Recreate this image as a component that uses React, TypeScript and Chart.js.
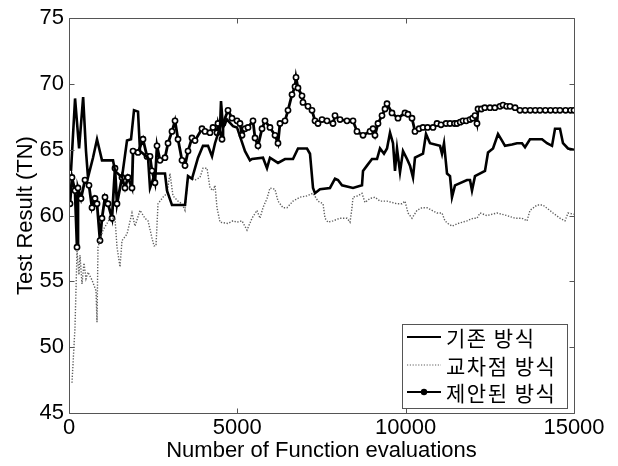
import { useEffect, useRef } from "react";
import { Chart, registerables } from "chart.js";

Chart.register(...registerables);

// ---------- data ----------
const xTicks = [0, 5000, 10000, 15000];
const yTicks = [45, 50, 55, 60, 65, 70, 75];
const xTitle = "Number of Function evaluations";
const yTitle = "Test Result (TN)";
const seriesNames = ["기존 방식", "교차점 방식", "제안된 방식"];

// 기존 방식 (solid)
const s1X = [60,180,300,420,505,564,713,832,980,1307,1366,1574,1723,1842,1931,2050,2109,2347,2406,2554,2851,2911,3059,3446,3535,3653,3743,3832,3980,4129,4248,4337,4485,4515,4574,4693,4871,4990,5228,5376,5436,5762,5881,5970,6208,6416,6653,6802,7069,7158,7248,7307,7455,7752,7901,7990,8109,8436,8703,8733,8851,9000,9149,9238,9356,9446,9535,9624,9683,9743,9832,9921,10040,10129,10218,10277,10515,10604,10723,11020,11079,11139,11228,11317,11376,11465,11822,11911,11970,12059,12356,12446,12594,12743,12861,12950,13158,13307,13455,13545,13693,14050,14198,14347,14436,14584,14673,14822,15000];
const s1Y = [63.4,68.9,65.1,69.0,64.9,62.9,64.4,65.8,64.2,64.2,63.4,62.9,65.7,65.8,68.0,67.9,64.9,64.4,62.1,63.2,63.2,61.9,60.8,60.8,63.0,62.8,63.6,64.4,65.3,65.3,64.5,65.5,66.7,68.7,66.7,67.3,66.8,66.7,64.9,64.2,64.3,64.4,63.6,64.4,64.0,64.3,64.3,65.1,65.1,64.7,62.1,61.7,62.0,62.1,62.8,62.7,62.3,62.1,62.3,63.4,63.8,64.3,64.3,65.1,64.7,65.1,66.3,65.5,63.4,65.1,63.3,64.9,64.3,63.8,62.9,64.4,64.7,66.2,65.5,65.3,64.7,65.5,63.2,63.0,61.4,62.3,62.7,62.7,61.9,63.0,63.4,64.8,65.1,66.2,65.7,65.3,65.4,65.5,65.5,65.2,65.8,65.8,65.5,65.3,66.6,66.6,65.5,65.1,65.0];

// 교차점 방식 (dotted)
const s2X = [89,178,238,297,327,386,445,505,564,683,802,832,861,1010,1129,1218,1366,1426,1515,1574,1723,1871,1960,2109,2257,2347,2465,2525,2584,2644,2792,2911,3000,3089,3238,3356,3446,3535,3743,3891,3980,4099,4188,4277,4337,4396,4485,4723,4871,4990,5139,5287,5436,5584,5673,5762,5881,5970,6119,6208,6356,6475,6653,6861,7069,7248,7396,7545,7604,7693,7842,8050,8257,8347,8406,8436,8584,8703,8792,8941,9089,9238,9446,9594,9743,9891,9980,10069,10188,10337,10485,10634,10782,10931,11079,11168,11257,11376,11554,11822,12000,12119,12208,12416,12713,13010,13248,13455,13604,13693,13901,14079,14228,14376,14584,14733,14822,15000];
const s2Y = [47.3,51.5,57.3,55.5,57.0,54.8,56.4,55.2,55.7,55.1,54.3,51.9,57.6,58.9,59.4,59.8,59.8,57.6,56.1,58.1,58.6,60.2,59.2,60.4,59.8,59.6,58.3,57.7,57.7,60.9,61.4,61.7,63.2,61.5,61.1,60.9,60.4,63.0,62.7,62.9,63.6,63.6,62.1,61.9,62.3,60.6,59.5,59.4,59.6,59.5,59.6,58.9,59.8,60.4,59.8,60.6,61.3,62.1,62.0,61.1,60.6,60.6,61.1,61.4,61.5,61.7,61.1,60.9,59.8,59.5,59.6,59.8,59.8,59.5,60.6,61.4,61.5,61.7,61.0,61.3,61.4,61.1,61.1,61.0,60.9,60.9,61.1,60.2,59.8,60.4,60.6,60.6,60.4,60.2,60.2,59.6,59.4,59.2,59.4,59.6,59.8,59.8,60.2,60.0,60.2,60.0,59.8,59.8,59.6,60.4,60.8,60.8,60.5,60.2,59.8,59.6,60.2,60.1];

// 제안된 방식 (line with circles)
const s3X = [30,89,178,238,267,356,475,594,683,772,832,921,980,1069,1158,1277,1366,1426,1574,1663,1752,1871,1901,2050,2198,2317,2406,2465,2554,2614,2703,2851,2941,3059,3149,3238,3356,3446,3535,3653,3743,3950,4040,4188,4277,4396,4426,4545,4574,4723,4842,4990,5079,5139,5228,5317,5465,5525,5614,5733,5822,5970,6119,6208,6267,6416,6505,6624,6713,6743,6802,6921,6950,7099,7218,7307,7396,7515,7663,7842,7901,8050,8257,8436,8554,8733,8941,9030,9089,9178,9297,9386,9446,9594,9772,9980,10069,10188,10277,10400,10515,10650,10812,10931,11050,11200,11317,11450,11525,11620,11703,11800,11911,11990,12059,12119,12149,12250,12350,12505,12650,12802,12891,13000,13099,13250,13396,13550,13700,13850,13990,14150,14300,14450,14584,14750,14900,15000];
const s3Y = [60.9,62.9,61.9,57.6,62.1,61.3,62.7,62.3,60.6,61.3,60.9,58.1,59.8,61.4,60.9,59.8,63.6,60.9,62.9,62.1,62.9,62.1,64.9,64.8,65.8,64.5,64.5,63.4,62.5,65.3,64.2,64.4,65.5,66.4,67.2,65.8,64.2,63.8,64.9,65.9,65.7,66.6,66.4,66.3,66.7,66.3,67.0,65.8,67.0,68.0,67.4,67.2,67.0,66.1,66.6,66.7,67.2,65.9,65.3,66.6,67.2,66.7,66.1,65.5,67.0,67.2,68.0,69.2,69.8,70.5,69.7,69.1,68.6,68.3,68.0,67.2,67.0,67.3,67.2,67.0,67.6,67.3,67.2,67.2,66.4,66.1,66.4,66.6,66.1,67.0,67.6,68.1,68.5,67.8,67.4,67.8,67.7,67.4,66.4,66.6,66.7,66.7,66.7,67.0,66.9,67.0,67.0,67.0,67.0,67.1,67.2,67.2,67.3,67.4,67.6,67.0,68.1,68.1,68.2,68.2,68.2,68.3,68.4,68.3,68.3,68.2,68.0,68.0,68.0,68.0,68.0,68.0,68.0,68.0,68.0,68.0,68.0,68.0];

// ---------- helpers ----------
const toPoints = (xs: number[], ys: number[]) => {
  const n = Math.min(xs.length, ys.length);
  const out: { x: number; y: number }[] = [];
  for (let i = 0; i < n; i++) out.push({ x: xs[i], y: ys[i] });
  return out;
};

const AXIS_COLOR = "#555555";
const DOT_COLOR = "#5e5e5e";
const LATIN = '"Liberation Sans", Arial, Helvetica, sans-serif';
const KOREAN = '"Noto Sans CJK KR", "Noto Sans CJK SC", sans-serif';

const framePlugin = {
  id: "matlabFrame",
  afterDatasetsDraw(chart: any) {
    const { ctx, chartArea, scales } = chart;
    const { left, right, top, bottom } = chartArea;
    const xs = scales.x;
    const ys = scales.y;
    ctx.save();
    ctx.strokeStyle = AXIS_COLOR;
    ctx.lineWidth = 1;
    const L = Math.round(left) + 0.5;
    const R = Math.round(right) + 0.5;
    const T = Math.round(top) + 0.5;
    const B = Math.round(bottom) + 0.5;
    ctx.beginPath();
    ctx.moveTo(L, T);
    ctx.lineTo(R, T);
    ctx.lineTo(R, B);
    ctx.lineTo(L, B);
    ctx.closePath();
    const tl = 5;
    xTicks.forEach((v) => {
      const px = Math.round(xs.getPixelForValue(v)) + 0.5;
      ctx.moveTo(px, B);
      ctx.lineTo(px, B - tl);
      ctx.moveTo(px, T);
      ctx.lineTo(px, T + tl);
    });
    yTicks.forEach((v) => {
      const py = Math.round(ys.getPixelForValue(v)) + 0.5;
      ctx.moveTo(L, py);
      ctx.lineTo(L + tl, py);
      ctx.moveTo(R, py);
      ctx.lineTo(R - tl, py);
    });
    ctx.stroke();

    // legend box
    const bw = 165;
    const bh = 84;
    const bx = Math.round(right) - 172;
    const by = Math.round(bottom) - 89;
    ctx.fillStyle = "#ffffff";
    ctx.fillRect(bx, by, bw, bh);
    ctx.strokeStyle = AXIS_COLOR;
    ctx.lineWidth = 1;
    ctx.strokeRect(bx + 0.5, by + 0.5, bw, bh);
    const rows = [by + 13, by + 41, by + 68];
    const x0 = bx + 5;
    const x1 = bx + 39;
    ctx.strokeStyle = "#000";
    ctx.lineWidth = 2;
    ctx.setLineDash([]);
    ctx.beginPath();
    ctx.moveTo(x0, rows[0]);
    ctx.lineTo(x1, rows[0]);
    ctx.stroke();
    ctx.strokeStyle = DOT_COLOR;
    ctx.lineWidth = 1.2;
    ctx.setLineDash([1.2, 1.6]);
    ctx.beginPath();
    ctx.moveTo(x0, rows[1]);
    ctx.lineTo(x1, rows[1]);
    ctx.stroke();
    ctx.setLineDash([]);
    ctx.strokeStyle = "#000";
    ctx.lineWidth = 2;
    ctx.beginPath();
    ctx.moveTo(x0, rows[2]);
    ctx.lineTo(x1, rows[2]);
    ctx.stroke();
    ctx.fillStyle = "#000";
    ctx.beginPath();
    ctx.arc((x0 + x1) / 2, rows[2], 3.2, 0, Math.PI * 2);
    ctx.fill();
    ctx.fillStyle = "#000";
    ctx.font = `21px ${KOREAN}`;
    try {
      (ctx as any).letterSpacing = "1.5px";
    } catch (e) {
      /* ignore */
    }
    ctx.textBaseline = "middle";
    ctx.textAlign = "left";
    seriesNames.forEach((name, i) => {
      ctx.fillText(name, bx + 44, rows[i] + 1);
    });
    ctx.restore();
  },
};

export default function App() {
  const canvasRef = useRef<HTMLCanvasElement | null>(null);

  useEffect(() => {
    const canvas = canvasRef.current;
    if (!canvas) return;
    Chart.defaults.font.family = LATIN;
    const chart = new Chart(canvas, {
      type: "line",
      data: {
        datasets: [
          {
            label: seriesNames[0],
            data: toPoints(s1X, s1Y),
            borderColor: "#000000",
            borderWidth: 2.6,
            pointRadius: 0,
            tension: 0,
            fill: false,
          },
          {
            label: seriesNames[1],
            data: toPoints(s2X, s2Y),
            borderColor: DOT_COLOR,
            borderWidth: 1.4,
            borderDash: [1.3, 1.6],
            pointRadius: 0,
            tension: 0,
            fill: false,
          },
          {
            label: seriesNames[2],
            data: toPoints(s3X, s3Y),
            borderColor: "#000000",
            borderWidth: 2.8,
            pointRadius: 2.6,
            pointBorderWidth: 1.6,
            pointBorderColor: "#000000",
            pointBackgroundColor: "#ffffff",
            pointStyle: "circle",
            tension: 0,
            fill: false,
          },
        ],
      },
      options: {
        responsive: false,
        maintainAspectRatio: false,
        animation: false,
        devicePixelRatio: 1,
        events: [],
        layout: { padding: { left: 0, right: 44, top: 17, bottom: 0 } },
        plugins: {
          legend: { display: false },
          tooltip: { enabled: false },
        },
        scales: {
          x: {
            type: "linear",
            min: 0,
            max: 15000,
            afterBuildTicks: (s: any) => {
              s.ticks = xTicks.map((v) => ({ value: v }));
            },
            ticks: {
              color: "#000",
              font: { size: 22, family: LATIN },
              padding: 2,
              maxRotation: 0,
              autoSkip: false,
              callback: (v: any) => String(v),
            },
            grid: { display: false, drawTicks: false },
            border: { display: false },
            title: {
              display: true,
              text: xTitle,
              color: "#000",
              font: { size: 22, family: LATIN },
              padding: { top: 0, bottom: 2 },
            },
            afterFit: (s: any) => {
              s.height = 53;
            },
          },
          y: {
            type: "linear",
            min: 45,
            max: 75,
            afterBuildTicks: (s: any) => {
              s.ticks = yTicks.map((v) => ({ value: v }));
            },
            ticks: {
              color: "#000",
              font: { size: 22, family: LATIN },
              padding: 5,
              autoSkip: false,
              callback: (v: any) => String(v),
            },
            grid: { display: false, drawTicks: false },
            border: { display: false },
            title: {
              display: true,
              text: yTitle,
              color: "#000",
              font: { size: 22, family: LATIN },
              padding: { top: 13, bottom: 0 },
            },
            afterFit: (s: any) => {
              s.width = 69;
            },
          },
        },
      },
      plugins: [framePlugin],
    } as any);
    return () => chart.destroy();
  }, []);

  return (
    <div style={{ position: "absolute", left: 0, top: 0, width: 618, height: 466, background: "#fff" }}>
      <canvas ref={canvasRef} width={618} height={466} style={{ display: "block", width: 618, height: 466 }} />
    </div>
  );
}
